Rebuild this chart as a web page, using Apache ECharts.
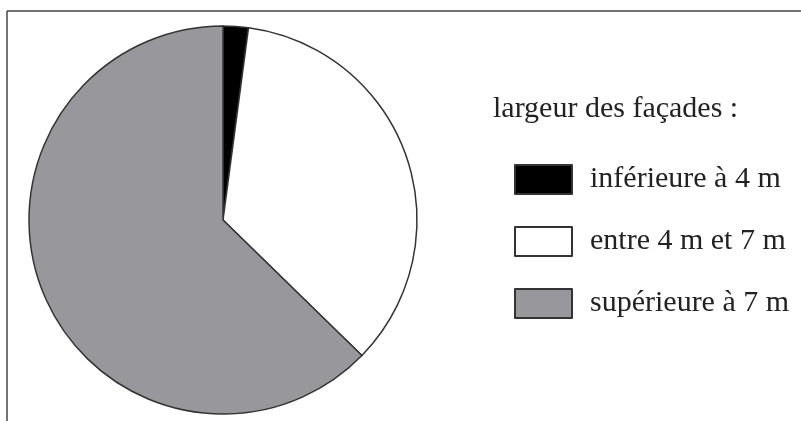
<!DOCTYPE html>
<html><head><meta charset="utf-8">
<script src="https://cdn.jsdelivr.net/npm/echarts@6/dist/echarts.min.js"></script>
<style>html,body{margin:0;padding:0;background:#fff}#c{width:801px;height:421px}</style>
</head><body><div id="c"></div>
<script>
const categories = ['inférieure à 4 m', 'entre 4 m et 7 m', 'supérieure à 7 m'];
const values = [2.1, 35.2, 62.7];
const colors = ['#000000', '#ffffff', '#98989c'];
const legendTitle = 'largeur des façades :';

const chart = echarts.init(document.getElementById('c'), null, {renderer: 'canvas'});
chart.setOption({
  animation: false,
  backgroundColor: '#fff',
  title: {
    text: legendTitle, left: 493, top: 94, padding: 0,
    textStyle: {fontFamily: 'Liberation Serif', fontSize: 30, fontWeight: 'normal', color: '#222'}
  },
  legend: {
    orient: 'vertical', left: 514, top: 164, padding: 0,
    itemWidth: 57, itemHeight: 29, itemGap: 31,
    icon: 'rect',
    data: categories,
    textStyle: {fontFamily: 'Liberation Serif', fontSize: 30, color: '#222', padding: [0, 0, 0, 13]}
  },
  graphic: [
    {type: 'line', shape: {x1: 7, y1: 11, x2: 801, y2: 11}, style: {stroke: '#444', lineWidth: 1.5}},
    {type: 'line', shape: {x1: 7, y1: 11, x2: 7, y2: 421}, style: {stroke: '#444', lineWidth: 1.5}}
  ],
  series: [{
    type: 'pie',
    center: [223, 220],
    radius: 194,
    startAngle: 90,
    clockwise: true,
    label: {show: false},
    labelLine: {show: false},
    emphasis: {disabled: true},
    itemStyle: {borderColor: '#333', borderWidth: 1.5},
    data: categories.map((n, i) => ({name: n, value: values[i], itemStyle: {color: colors[i]}}))
  }]
});
</script></body></html>
